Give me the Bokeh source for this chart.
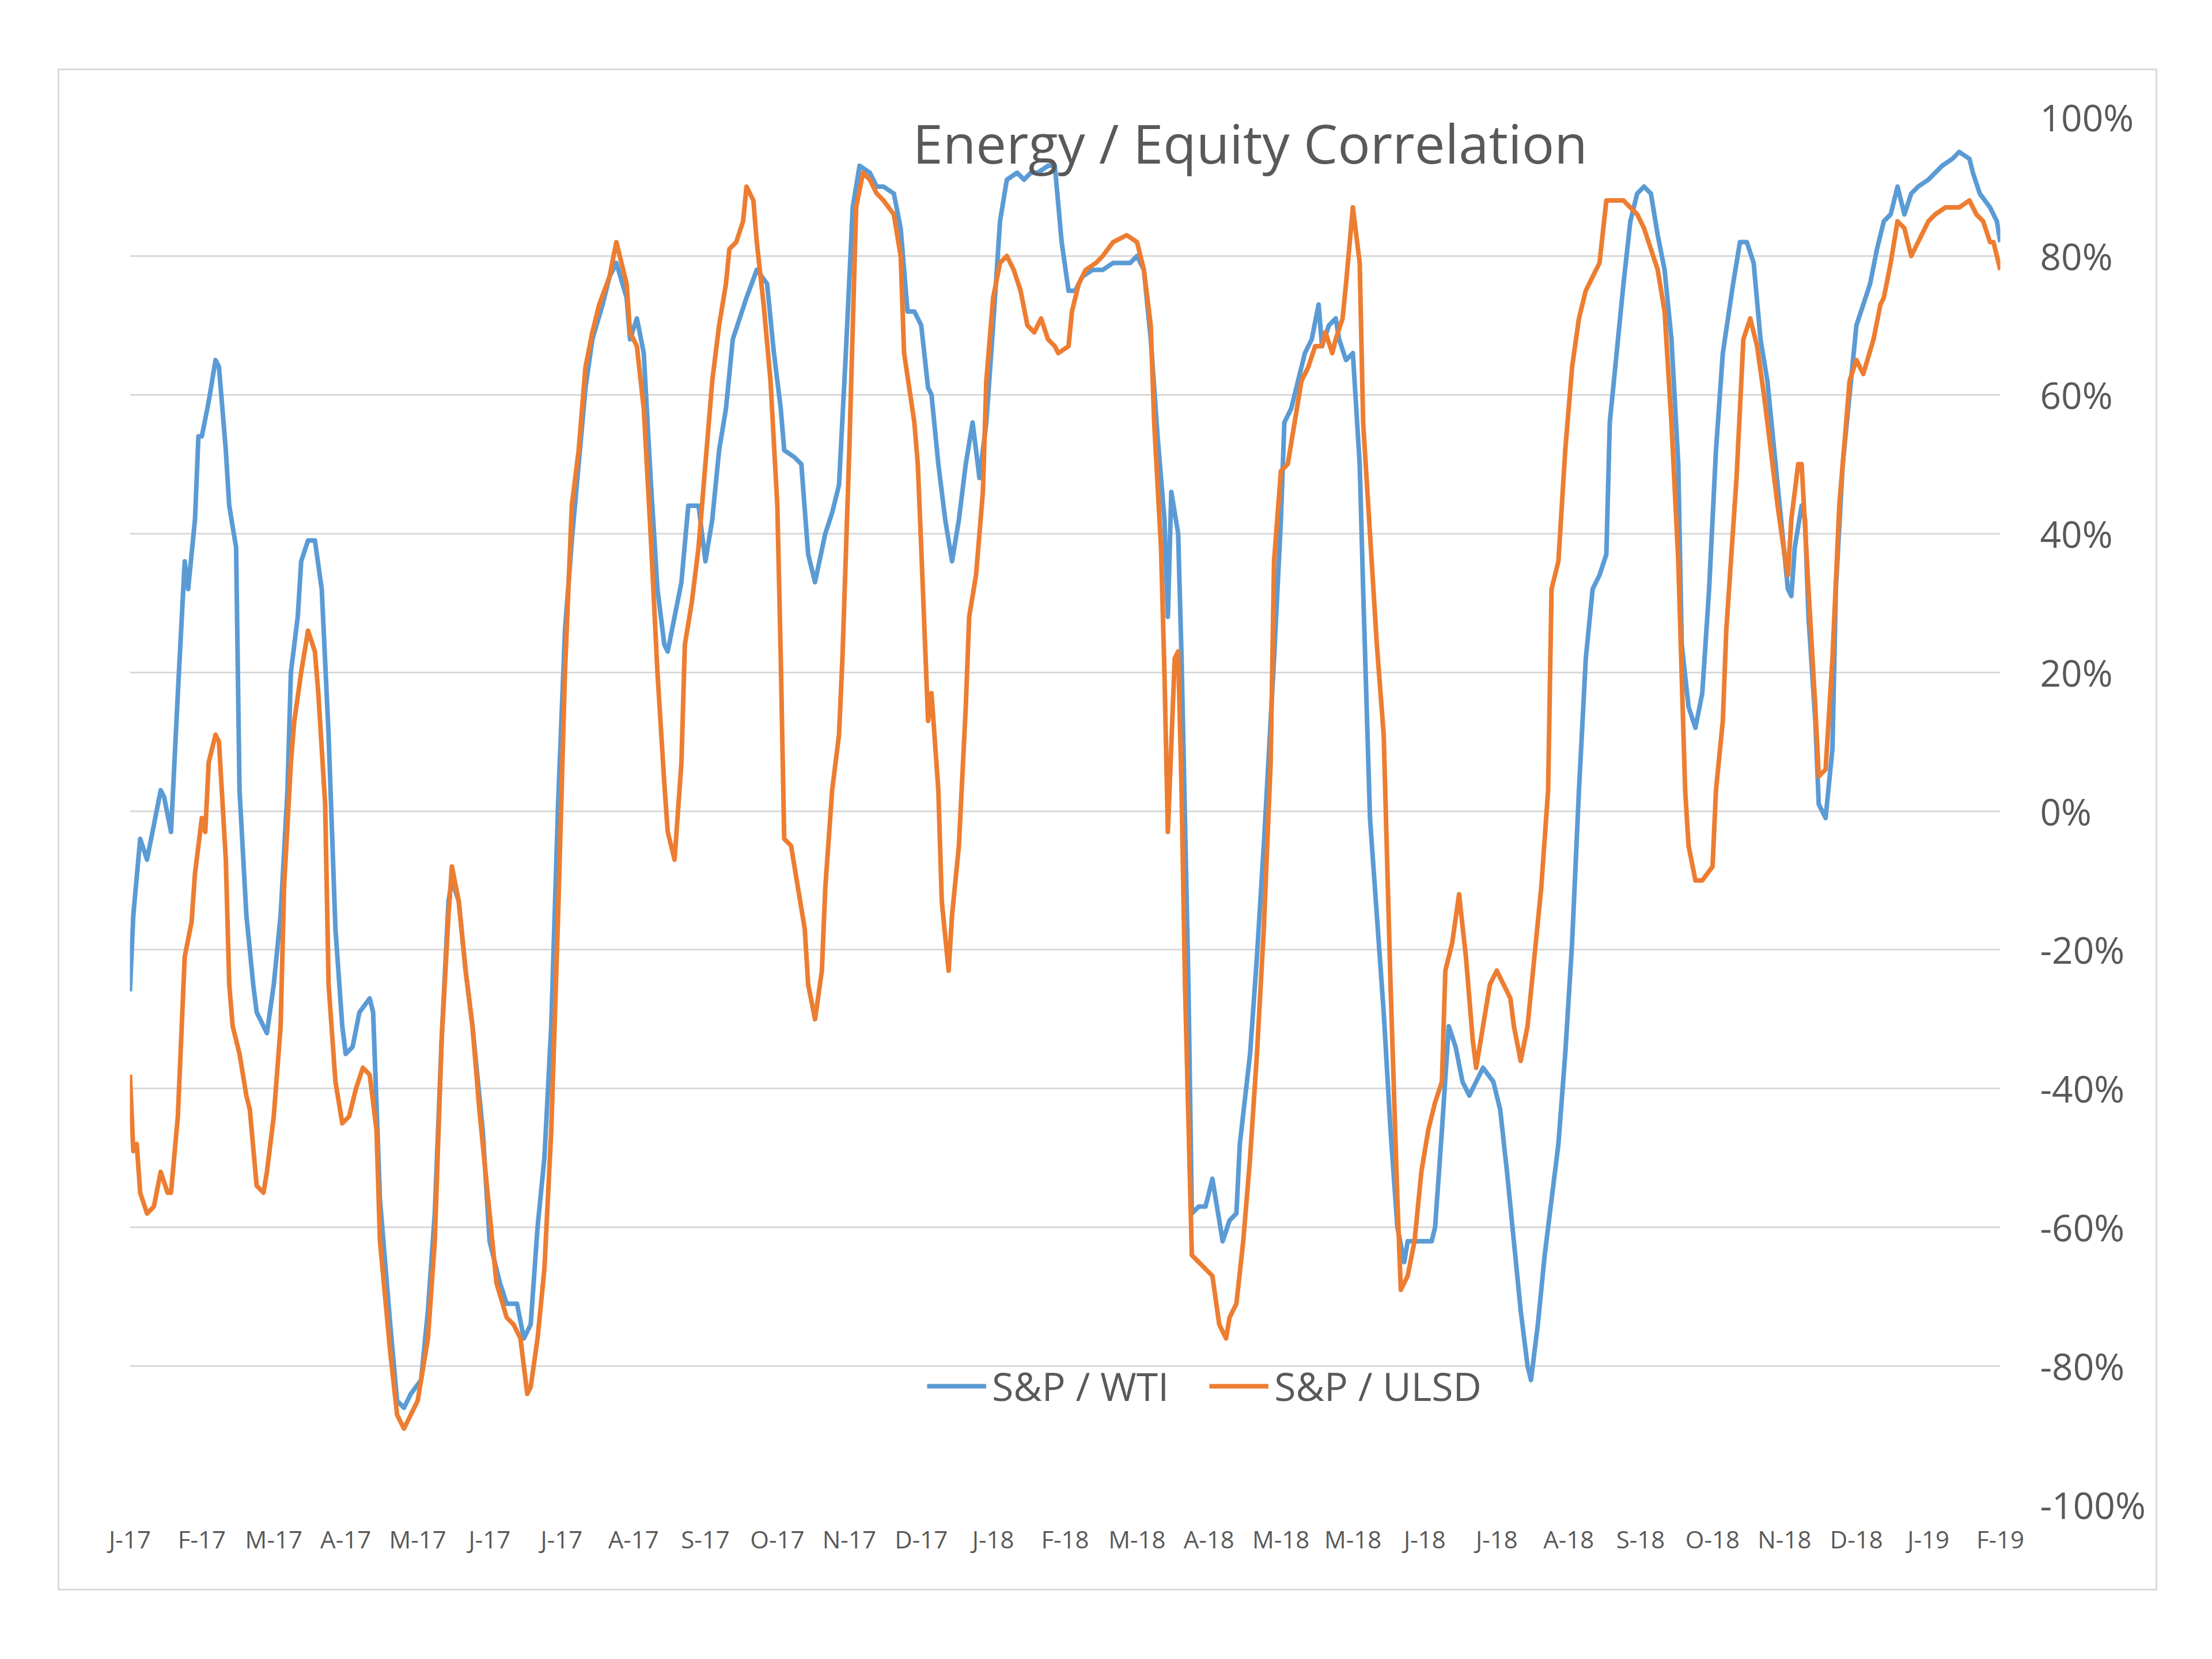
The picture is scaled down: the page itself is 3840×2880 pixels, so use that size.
from bokeh.plotting import figure
from bokeh.models import Range1d, FixedTicker, PrintfTickFormatter, Label, Legend
from bokeh.embed import file_html
from bokeh.resources import INLINE

# ---------------- data (trading-day index, correlation in %) ----------------
wti_day = [
    0, 1, 3, 5, 7, 9, 10, 12, 14, 16,
    17, 19, 20, 21, 23, 25, 26, 28, 29, 31,
    32, 34, 36, 37, 40, 42, 44, 46, 47, 49,
    50, 52, 54, 56, 58, 60, 62, 63, 65, 67,
    70, 71, 73, 76, 78, 80, 82, 85, 87, 89,
    91, 93, 94, 96, 98, 100, 103, 105, 108, 110,
    113, 115, 117, 119, 121, 123, 125, 127, 129, 131,
    133, 135, 138, 140, 142, 145, 146, 148, 150, 152,
    154, 156, 157, 159, 161, 163, 166, 168, 170, 172,
    174, 176, 178, 180, 183, 186, 188, 190, 191, 194,
    196, 198, 200, 203, 205, 207, 209, 211, 213, 216,
    218, 220, 223, 225, 227, 229, 231, 233, 234, 236,
    238, 240, 242, 244, 246, 248, 250, 252, 254, 256,
    259, 261, 263, 265, 268, 270, 272, 274, 276, 278,
    281, 284, 287, 292, 294, 296, 298, 300, 302, 303,
    304, 306, 307, 309, 310, 312, 314, 316, 317, 319,
    321, 323, 324, 327, 329, 331, 334, 336, 337, 339,
    341, 343, 345, 347, 348, 350, 352, 353, 355, 357,
    359, 360, 362, 364, 366, 368, 370, 372, 373, 376,
    378, 380, 381, 383, 385, 387, 389, 391, 393, 395,
    398, 400, 402, 404, 406, 408, 409, 411, 413, 415,
    417, 419, 421, 423, 425, 427, 429, 431, 432, 434,
    436, 438, 440, 442, 444, 446, 448, 450, 452, 453,
    455, 457, 459, 461, 463, 465, 468, 470, 472, 474,
    476, 478, 480, 482, 484, 485, 486, 488, 489, 490,
    492, 493, 495, 497, 498, 500, 502, 504, 506, 508,
    510, 512, 514, 516, 518, 520, 522, 525, 529, 532,
    534, 537, 538, 540, 543, 545, 546,
]
wti_val = [
    -26, -15, -4, -7, -2, 3, 2, -3, 17, 36,
    32, 42, 54, 54, 59, 65, 64, 52, 44, 38,
    3, -15, -25, -29, -32, -25, -15, 3, 20, 28,
    36, 39, 39, 32, 11, -17, -31, -35, -34, -29,
    -27, -29, -56, -74, -85, -86, -84, -82, -72, -58,
    -33, -13, -10, -13, -23, -31, -46, -62, -68, -71,
    -71, -76, -74, -60, -50, -31, 1, 26, 39, 50,
    61, 68, 73, 77, 79, 74, 68, 71, 66, 48,
    32, 24, 23, 28, 33, 44, 44, 36, 42, 52,
    58, 68, 71, 74, 78, 76, 66, 58, 52, 51,
    50, 37, 33, 40, 43, 47, 66, 87, 93, 92,
    90, 90, 89, 84, 72, 72, 70, 61, 60, 50,
    42, 36, 42, 50, 56, 48, 56, 70, 85, 91,
    92, 91, 92, 92, 93, 93, 82, 75, 75, 77,
    78, 78, 79, 79, 80, 78, 68, 54, 42, 28,
    46, 40, 22, -25, -58, -57, -57, -53, -56, -62,
    -59, -58, -48, -35, -21, -5, 22, 42, 56, 58,
    62, 66, 68, 73, 67, 70, 71, 68, 65, 66,
    50, 32, -1, -15, -29, -46, -60, -65, -62, -62,
    -62, -62, -60, -46, -31, -34, -39, -41, -39, -37,
    -39, -43, -52, -62, -72, -80, -82, -74, -64, -56,
    -48, -35, -19, 3, 22, 32, 34, 37, 56, 66,
    76, 85, 89, 90, 89, 83, 78, 68, 50, 24,
    15, 12, 17, 32, 52, 66, 76, 82, 82, 79,
    68, 62, 52, 42, 32, 31, 38, 44, 42, 28,
    13, 1, -1, 9, 32, 50, 60, 70, 73, 76,
    81, 85, 86, 90, 86, 89, 90, 91, 93, 94,
    95, 94, 92, 89, 87, 85, 82,
]

ulsd_day = [
    0, 1, 2, 3, 5, 7, 9, 11, 12, 14,
    16, 18, 19, 21, 22, 23, 25, 26, 28, 29,
    30, 32, 34, 35, 37, 39, 40, 42, 44, 45,
    47, 48, 50, 52, 54, 55, 57, 58, 60, 62,
    64, 66, 68, 70, 72, 73, 76, 78, 80, 82,
    84, 87, 89, 91, 93, 94, 96, 98, 100, 102,
    105, 107, 110, 112, 114, 116, 117, 119, 121, 123,
    125, 127, 129, 131, 133, 135, 137, 140, 142, 145,
    146, 148, 150, 152, 154, 156, 157, 159, 161, 162,
    164, 166, 168, 170, 172, 174, 175, 177, 179, 180,
    182, 183, 185, 187, 189, 190, 191, 193, 195, 197,
    198, 200, 202, 203, 205, 207, 208, 210, 212, 214,
    216, 218, 220, 223, 225, 226, 229, 230, 231, 233,
    234, 236, 237, 239, 240, 242, 244, 245, 247, 249,
    250, 252, 254, 256, 258, 260, 262, 264, 266, 268,
    270, 271, 274, 275, 277, 279, 282, 284, 287, 291,
    294, 296, 298, 299, 301, 302, 303, 305, 306, 307,
    308, 310, 312, 314, 316, 318, 320, 321, 323, 325,
    327, 329, 331, 333, 334, 336, 338, 340, 342, 344,
    346, 348, 349, 351, 352, 354, 355, 357, 359, 360,
    362, 364, 366, 368, 370, 371, 373, 375, 377, 379,
    381, 383, 384, 386, 388, 390, 392, 393, 395, 397,
    399, 401, 403, 404, 406, 408, 410, 412, 414, 415,
    417, 419, 421, 423, 425, 427, 429, 431, 434, 436,
    438, 440, 442, 444, 446, 448, 450, 452, 454, 455,
    457, 459, 462, 463, 465, 466, 469, 471, 473, 475,
    477, 479, 481, 483, 484, 485, 487, 488, 490, 492,
    493, 495, 497, 499, 501, 502, 504, 506, 509, 511,
    512, 514, 516, 518, 520, 522, 525, 527, 530, 534,
    537, 539, 541, 543, 544, 546,
]
ulsd_val = [
    -38, -49, -48, -55, -58, -57, -52, -55, -55, -44,
    -21, -16, -9, -1, -3, 7, 11, 10, -7, -25,
    -31, -35, -41, -43, -54, -55, -52, -44, -31, -11,
    7, 13, 20, 26, 23, 17, 1, -25, -39, -45,
    -44, -40, -37, -38, -46, -62, -78, -87, -89, -87,
    -85, -76, -62, -33, -15, -8, -13, -23, -31, -43,
    -58, -68, -73, -74, -76, -84, -83, -76, -66, -46,
    -15, 20, 44, 52, 64, 69, 73, 77, 82, 76,
    69, 67, 58, 40, 20, 4, -3, -7, 7, 24,
    30, 38, 50, 62, 70, 76, 81, 82, 85, 90,
    88, 82, 73, 62, 44, 22, -4, -5, -11, -17,
    -25, -30, -23, -11, 3, 11, 22, 52, 87, 92,
    91, 89, 88, 86, 80, 66, 56, 50, 38, 13,
    17, 3, -13, -23, -15, -5, 15, 28, 34, 46,
    62, 74, 79, 80, 78, 75, 70, 69, 71, 68,
    67, 66, 67, 72, 76, 78, 79, 80, 82, 83,
    82, 78, 70, 56, 38, 20, -3, 22, 23, 3,
    -25, -64, -65, -66, -67, -74, -76, -73, -71, -62,
    -50, -35, -17, 7, 36, 49, 50, 56, 62, 64,
    67, 67, 69, 66, 68, 71, 76, 87, 79, 56,
    40, 24, 11, -25, -56, -69, -67, -62, -52, -46,
    -42, -39, -23, -19, -12, -21, -33, -37, -31, -25,
    -23, -25, -27, -31, -36, -31, -21, -11, 3, 32,
    36, 52, 64, 71, 75, 77, 79, 88, 88, 88,
    87, 86, 84, 81, 78, 72, 56, 36, 3, -5,
    -10, -10, -8, 3, 13, 26, 48, 68, 71, 67,
    60, 52, 44, 37, 34, 42, 50, 50, 32, 15,
    5, 6, 22, 44, 56, 62, 65, 63, 68, 73,
    74, 79, 85, 84, 80, 82, 85, 86, 87, 87,
    88, 86, 85, 82, 82, 78,
]

x_tick_labels = ["J-17", "F-17", "M-17", "A-17", "M-17", "J-17", "J-17", "A-17",
                 "S-17", "O-17", "N-17", "D-17", "J-18", "F-18", "M-18", "A-18",
                 "M-18", "M-18", "J-18", "J-18", "A-18", "S-18", "O-18", "N-18",
                 "D-18", "J-19", "F-19"]
label_step = 21
x_ticks = [i * label_step for i in range(len(x_tick_labels))]
y_ticks = list(range(-100, 101, 20))

title_text = "Energy / Equity Correlation"
series_names = ["S&P / WTI", "S&P / ULSD"]

BLUE = "#5B9BD5"
ORANGE = "#ED7D31"
GREY_TXT = "#595959"
GRID = "#d9d9d9"
FONT = "Open Sans"

# ---------------- figure ----------------
p = figure(width=3645, height=2642,
           x_range=Range1d(0, x_ticks[-1]), y_range=Range1d(-100, 100),
           y_axis_location="right", output_backend="svg", toolbar_location=None,
           min_border_left=122, min_border_right=276, min_border_top=81,
           min_border_bottom=152)
p.margin = (119, 0, 0, 100)
p.styles = {"border": "3px solid #d9d9d9", "box-sizing": "border-box"}
p.outline_line_color = None
p.background_fill_color = "white"
p.border_fill_color = "white"

r1 = p.line(wti_day, wti_val, line_color=BLUE, line_width=8, line_join="round")
r2 = p.line(ulsd_day, ulsd_val, line_color=ORANGE, line_width=8, line_join="round")

# axes
p.xaxis.ticker = FixedTicker(ticks=x_ticks)
p.xaxis.major_label_overrides = {t: lab for t, lab in zip(x_ticks, x_tick_labels)}
p.xaxis.major_label_text_font = FONT
p.xaxis.major_label_text_font_size = "42px"
p.xaxis.major_label_text_color = GREY_TXT
p.xaxis.axis_line_color = None
p.xaxis.major_tick_line_color = None
p.xaxis.minor_tick_line_color = None
p.xaxis.major_label_standoff = 24

p.yaxis.ticker = FixedTicker(ticks=y_ticks)
p.yaxis.formatter = PrintfTickFormatter(format="%d%%")
p.yaxis.major_label_text_font = FONT
p.yaxis.major_label_text_font_size = "64px"
p.yaxis.major_label_text_color = GREY_TXT
p.yaxis.axis_line_color = None
p.yaxis.major_tick_line_color = None
p.yaxis.minor_tick_line_color = None
p.yaxis.major_label_standoff = 63

p.xgrid.visible = False
p.ygrid.ticker = FixedTicker(ticks=y_ticks)
p.ygrid.grid_line_color = GRID
p.ygrid.grid_line_width = 3

# title drawn inside the plot area, as in the original
p.add_layout(Label(x=327, y=96.3, text=title_text, text_align="center",
                   text_baseline="middle", text_font=FONT, text_font_size="94px",
                   text_color=GREY_TXT))

legend = Legend(items=[(series_names[0], [r1]), (series_names[1], [r2])],
                orientation="horizontal", location=(1384, 160),
                label_text_font=FONT, label_text_font_size="68px",
                label_text_color=GREY_TXT, glyph_width=103, glyph_height=60,
                label_standoff=10, spacing=70, padding=0, margin=0,
                border_line_color=None, background_fill_alpha=0)
p.add_layout(legend)

open("out.html", "w").write(file_html(p, INLINE))
